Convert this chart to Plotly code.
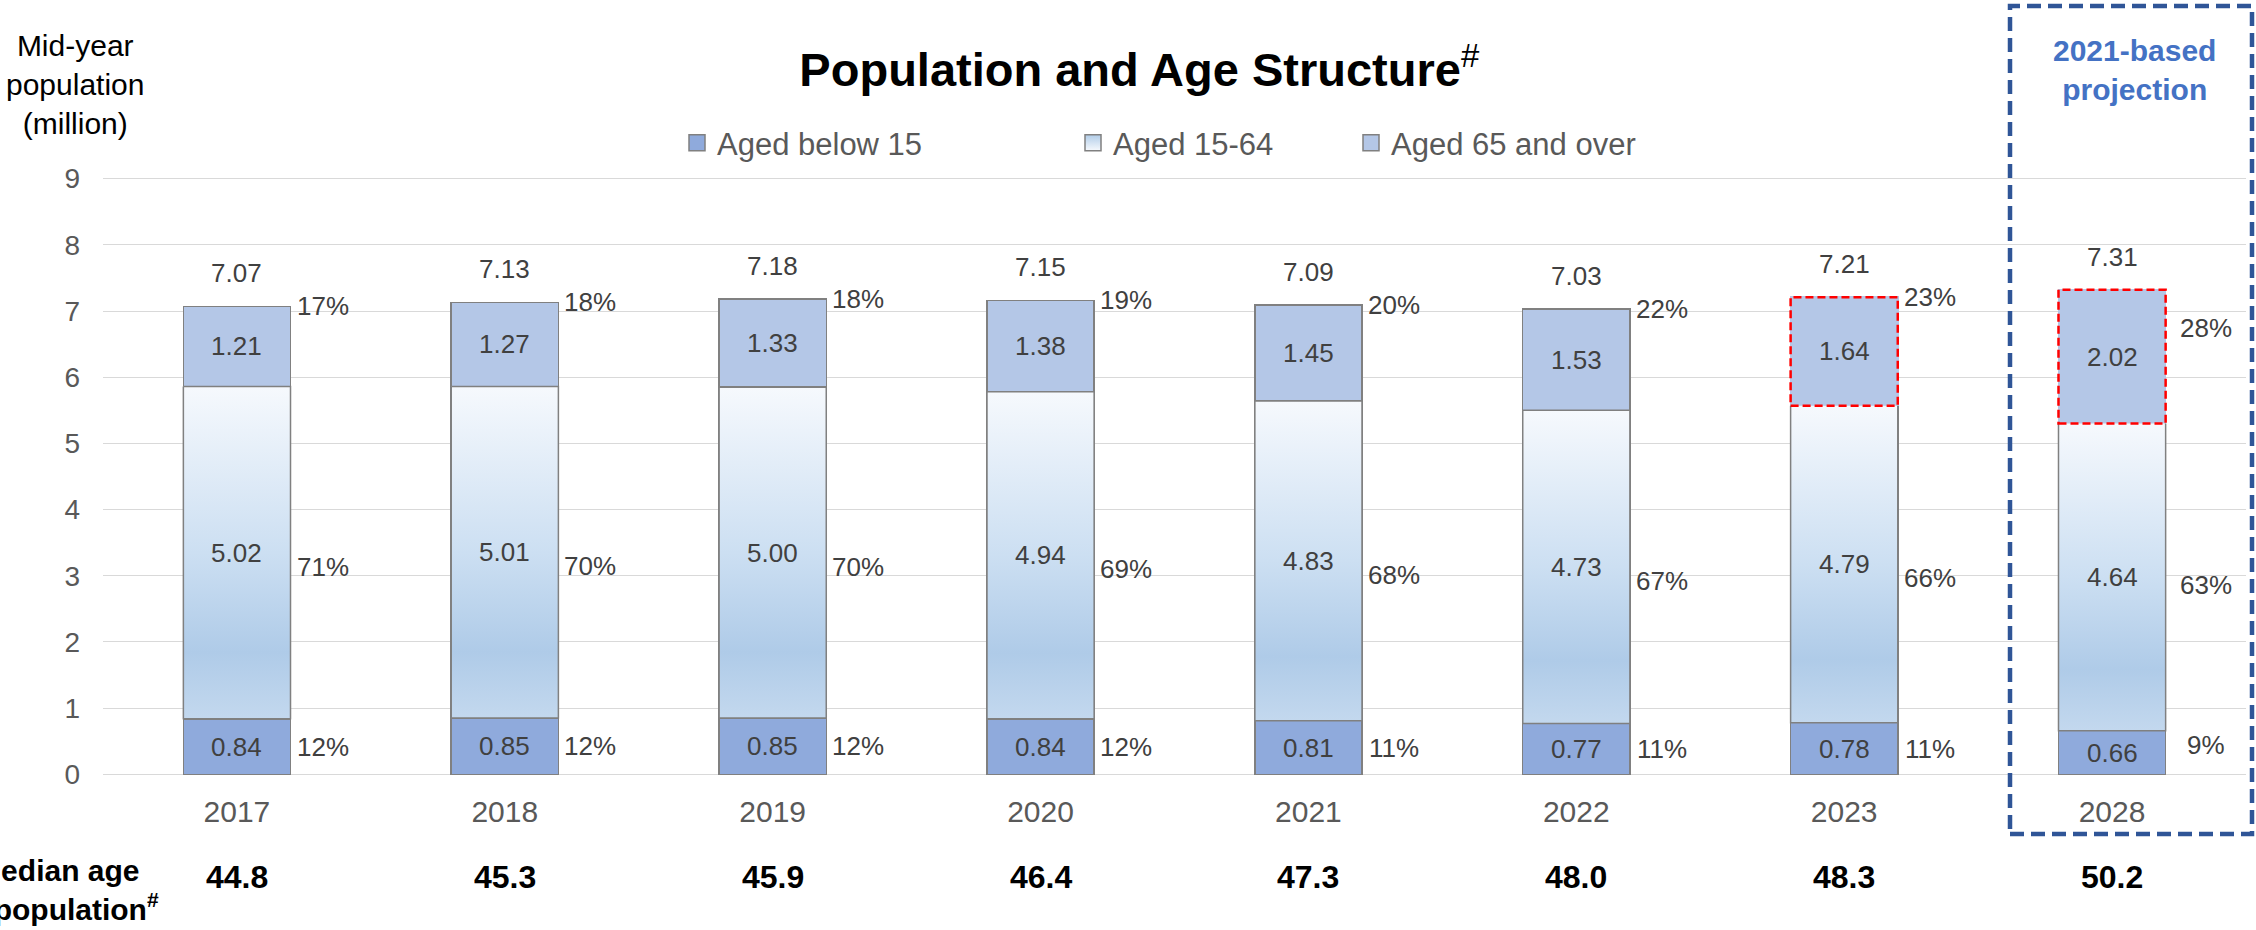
import plotly.graph_objects as go

# ---------------- data ----------------
years = ["2017", "2018", "2019", "2020", "2021", "2022", "2023", "2028"]
below15 = [0.84, 0.85, 0.85, 0.84, 0.81, 0.77, 0.78, 0.66]
aged15_64 = [5.02, 5.01, 5.00, 4.94, 4.83, 4.73, 4.79, 4.64]
aged65 = [1.21, 1.27, 1.33, 1.38, 1.45, 1.53, 1.64, 2.02]
totals = [7.07, 7.13, 7.18, 7.15, 7.09, 7.03, 7.21, 7.31]
pct_below15 = [12, 12, 12, 12, 11, 11, 11, 9]
pct_15_64 = [71, 70, 70, 69, 68, 67, 66, 63]
pct_65 = [17, 18, 18, 19, 20, 22, 23, 28]
median_age = ["44.8", "45.3", "45.9", "46.4", "47.3", "48.0", "48.3", "50.2"]
y_ticks = [0, 1, 2, 3, 4, 5, 6, 7, 8, 9]
projection_years = ["2028"]
highlight_years = ["2023", "2028"]

# ---------------- geometry helpers ----------------
W, H = 2256, 930
ML, MR, MT, MB = 103, 10, 177, 154
PW = W - ML - MR
PH = H - MT - MB


def px_x(p):
    return (p - ML) / PW


def px_y(p):
    return (H - MB - p) / PH


FONT = "Arial, 'Liberation Sans', sans-serif"
BAR_W = 0.4
xs = list(range(len(years)))

c_young = "#8FAADC"
c_mid = "#D5E4F3"
c_old = "#B4C7E7"
edge = "#808080"
txt = "#404040"
grey_txt = "#595959"
grad = [[0.0, "#C3D8EE"], [0.2, "#AFCBE8"], [0.5, "#CCDFF2"], [1.0, "#F6F9FD"]]

fig = go.Figure()

old_line_colors = [c_old if y in highlight_years else edge for y in years]

fig.add_trace(go.Bar(
    x=xs, y=below15, name="Aged below 15", width=BAR_W, legendgroup="g1",
    marker=dict(color=c_young, line=dict(color=edge, width=1.5)),
    showlegend=False, hoverinfo="skip"))
fig.add_trace(go.Bar(
    x=xs, y=aged15_64, name="Aged 15-64", width=BAR_W, legendgroup="g2",
    marker=dict(color=c_mid, line=dict(color=edge, width=1.5)),
    showlegend=False, hoverinfo="skip"))
fig.add_trace(go.Bar(
    x=xs, y=aged65, name="Aged 65 and over", width=BAR_W, legendgroup="g3",
    marker=dict(color=c_old, line=dict(color=old_line_colors, width=1.5)),
    showlegend=False, hoverinfo="skip"))

# gradient fill for the 15-64 segments
for i, (b, m) in enumerate(zip(below15, aged15_64)):
    x0, x1 = i - BAR_W / 2, i + BAR_W / 2
    y0, y1 = b, b + m
    if years[i] in highlight_years:
        gx, gy = [x0, x0, x1, x1], [y1, y0, y0, y1]
    else:
        gx, gy = [x0, x0, x1, x1, x0], [y1, y0, y0, y1, y1]
    fig.add_trace(go.Scatter(
        x=gx, y=gy, mode="lines", fill="toself", legendgroup="g2",
        fillgradient=dict(type="vertical", colorscale=grad, start=y0, stop=y1),
        line=dict(color=edge, width=1.5), showlegend=False, hoverinfo="skip"))

# legend entries (square keys)
leg_specs = [
    ("Aged below 15", "g1", "legend", dict(color=c_young)),
    ("Aged 15-64", "g2", "legend2", dict(color="#B0CCE8", gradient=dict(type="vertical", color="#F6F9FD"))),
    ("Aged 65 and over", "g3", "legend3", dict(color=c_old)),
]
for name, grp, lg, mk in leg_specs:
    fig.add_trace(go.Scatter(
        x=[None], y=[None], mode="markers", name=name, legendgroup=grp, legend=lg,
        marker=dict(mk, symbol="square", size=16, line=dict(color=edge, width=1.5)),
        hoverinfo="skip"))

ann = []
shapes = []
for i in xs:
    b, m, o = below15[i], aged15_64[i], aged65[i]
    proj = years[i] in projection_years
    lab = dict(xref="x", yref="y", showarrow=False, xanchor="center", yanchor="middle",
               font=dict(family=FONT, size=26, color=txt))
    ann.append(dict(lab, x=i, y=b / 2, text=f"{b:.2f}"))
    ann.append(dict(lab, x=i, y=b + m / 2, text=f"{m:.2f}"))
    ann.append(dict(lab, x=i, y=b + m + o / 2, text=f"{o:.2f}"))
    ann.append(dict(lab, x=i, y=b + m + o, text=f"{totals[i]:.2f}", yshift=33))
    xsft = 40 if proj else 32
    ann.append(dict(lab, x=i + BAR_W / 2, y=b / 2, text=f"{pct_below15[i]}%",
                    xshift=xsft, yshift=8 if proj else 0))
    ann.append(dict(lab, x=i + BAR_W / 2, y=b + m / 2, text=f"{pct_15_64[i]}%",
                    xshift=xsft, yshift=-8 if proj else -14))
    ann.append(dict(lab, x=i + BAR_W / 2, y=b + m + o, text=f"{pct_65[i]}%",
                    xshift=xsft, yshift=-38 if proj else 0))
    ann.append(dict(xref="x", yref="paper", x=i, y=px_y(877), showarrow=False,
                    xanchor="center", yanchor="middle",
                    text=f"<b>{median_age[i]}</b>",
                    font=dict(family=FONT, size=32, color="black")))
    if years[i] in highlight_years:
        shapes.append(dict(type="rect", xref="x", yref="y",
                           x0=i - BAR_W / 2, x1=i + BAR_W / 2,
                           y0=b + m, y1=b + m + o,
                           line=dict(color="#FF0000", width=2.5, dash="8px,4px"),
                           fillcolor="rgba(0,0,0,0)", layer="above"))

# projection box
shapes.append(dict(type="rect", xref="paper", yref="paper",
                   x0=px_x(2010), x1=px_x(2252), y0=px_y(834), y1=px_y(6),
                   line=dict(color="#2F5597", width=4.5, dash="14px,7px"),
                   fillcolor="rgba(0,0,0,0)", layer="above"))

pap = dict(xref="paper", yref="paper", showarrow=False, xanchor="center", yanchor="middle")
ann.append(dict(pap, x=px_x(2134), y=px_y(70),
                text="<b>2021-based<br>projection</b>",
                font=dict(family=FONT, size=30, color="#4472C4")))
ann.append(dict(pap, x=px_x(75), y=px_y(85),
                text="Mid-year<br>population<br>(million)",
                font=dict(family=FONT, size=30, color="black")))
ann.append(dict(pap, x=px_x(58), y=px_y(890),
                text="<b>Median age<br>of population<sup>#</sup></b>",
                font=dict(family=FONT, size=30, color="black")))

leg = dict(orientation="h", xanchor="left", yanchor="middle", y=px_y(143),
           bgcolor="rgba(0,0,0,0)", itemclick=False, itemdoubleclick=False,
           font=dict(family=FONT, size=31, color=grey_txt))

fig.update_layout(
    width=W, height=H,
    margin=dict(l=ML, r=MR, t=MT, b=MB, pad=0),
    plot_bgcolor="white", paper_bgcolor="white",
    barmode="stack",
    font=dict(family=FONT),
    title=dict(text="<b>Population and Age Structure</b><sup>#</sup>",
               x=0.505, xanchor="center", xref="container",
               y=1 - 70 / H, yanchor="middle", yref="container",
               font=dict(family=FONT, size=47, color="black")),
    legend=dict(leg, x=px_x(677)),
    legend2=dict(leg, x=px_x(1073)),
    legend3=dict(leg, x=px_x(1351)),
    xaxis=dict(range=[-0.5, len(years) - 0.5], tickvals=xs, ticktext=years,
               showgrid=False, zeroline=False, showline=False,
               tickfont=dict(family=FONT, size=30, color=grey_txt),
               ticklabelstandoff=15),
    yaxis=dict(range=[-0.025, 9.025], tickvals=y_ticks, showgrid=True,
               gridcolor="#D9D9D9", gridwidth=1.3, zeroline=False, showline=False,
               tickfont=dict(family=FONT, size=28, color=grey_txt),
               ticklabelstandoff=22),
    annotations=ann,
    shapes=shapes,
)

fig.write_html("out.html")
